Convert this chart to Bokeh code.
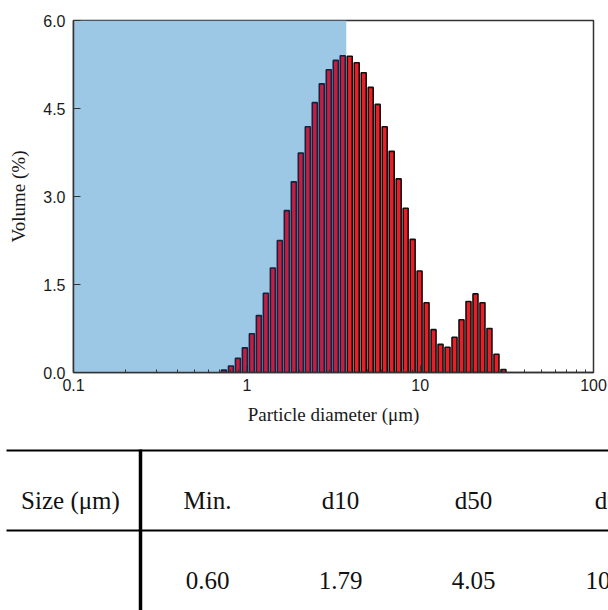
from bokeh.plotting import figure
from bokeh.models import (Range1d, FixedTicker, ColumnDataSource, PrintfTickFormatter,
                          BasicTickFormatter)
from bokeh.core.properties import value
from bokeh.embed import file_html
from bokeh.resources import INLINE

# ---------------- data ----------------
bin_edges_um = [0.704, 0.773, 0.848, 0.930, 1.021, 1.120, 1.229, 1.349, 1.480, 1.624,
                1.782, 1.955, 2.146, 2.354, 2.584, 2.835, 3.111, 3.414, 3.746, 4.110,
                4.510, 4.949, 5.430, 5.959, 6.538, 7.175, 7.873, 8.639, 9.479, 10.393,
                11.404, 12.514, 13.731, 15.067, 16.533, 18.142, 19.907, 21.844, 23.969,
                26.302, 28.861, 31.669]
volume_pct = [0.04, 0.11, 0.24, 0.42, 0.66, 0.97, 1.35, 1.78, 2.25, 2.76,
              3.25, 3.74, 4.19, 4.60, 4.92, 5.16, 5.32, 5.40, 5.39, 5.28,
              5.11, 4.86, 4.57, 4.19, 3.77, 3.30, 2.80, 2.27, 1.73, 1.19,
              0.73, 0.48, 0.43, 0.60, 0.90, 1.21, 1.34, 1.19, 0.75, 0.31, 0.05]
shade_limit_um = 3.746
x_ticks = [0.1, 1, 10, 100]
x_tick_labels = ["0.1", "1", "10", "100"]
y_ticks = [0.0, 1.5, 3.0, 4.5, 6.0]
table_header = ["Size (\u03bcm)", "Min.", "d10", "d50", "d90"]
table_values = ["", "0.60", "1.79", "4.05", "10.39"]

BLUE = "#9dc8e5"
CRIMSON = "#c81d41"
NAVY = "#14233f"
RED = "#ee1d25"

# ---------------- chart ----------------
p = figure(width=608, height=440, x_axis_type="log",
           x_range=Range1d(0.1, 100), y_range=Range1d(0, 6.0),
           output_backend="svg", toolbar_location=None,
           min_border_left=73, min_border_right=15, min_border_top=20, min_border_bottom=68)
p.xgrid.visible = False
p.ygrid.visible = False
p.background_fill_color = "white"
p.border_fill_color = "white"
p.outline_line_color = "#333333"
p.outline_line_width = 1.5

p.quad(left=[x_ticks[0]], right=[shade_limit_um], bottom=[y_ticks[0]], top=[y_ticks[-1]],
       fill_color=BLUE, line_color=None)

gap = 10 ** (1.0 / 173.4)  # ~1px shrink each side on log axis
n = len(volume_pct)
lefts = [bin_edges_um[i] * gap for i in range(n)]
rights = [bin_edges_um[i + 1] / gap for i in range(n)]
inside = [bin_edges_um[i + 1] <= shade_limit_um * 1.001 for i in range(n)]
src = ColumnDataSource(dict(
    left=lefts, right=rights, top=volume_pct, bottom=[0] * n,
    fill=[CRIMSON if f else RED for f in inside],
    line=[NAVY if f else "#111111" for f in inside],
))
p.quad(left="left", right="right", top="top", bottom="bottom", source=src,
       fill_color="fill", line_color="line", line_width=1.6)

minor = [m * d for d in (0.1, 1, 10) for m in range(2, 10)]
p.xaxis.ticker = FixedTicker(ticks=x_ticks, minor_ticks=minor)
p.xaxis.formatter = BasicTickFormatter(use_scientific=False)
p.xaxis.major_label_overrides = {t: l for t, l in zip(x_ticks, x_tick_labels)}
p.yaxis.ticker = FixedTicker(ticks=y_ticks)
p.yaxis.formatter = PrintfTickFormatter(format="%.1f")

for ax in (p.xaxis[0], p.yaxis[0]):
    ax.axis_line_color = "#333333"
    ax.axis_line_width = 1.5
    ax.major_tick_line_color = "#333333"
    ax.minor_tick_line_color = "#333333"
    ax.major_tick_in = 7
    ax.major_tick_out = 0
    ax.minor_tick_in = 3
    ax.minor_tick_out = 0
    ax.major_label_text_font = "Liberation Sans"
    ax.major_label_text_font_size = "16px"
    ax.major_label_text_color = "#1a1a1a"
    ax.axis_label_text_font = "Liberation Serif"
    ax.axis_label_text_font_style = "normal"
    ax.axis_label_text_color = "#1a1a1a"
p.yaxis.minor_tick_line_color = None
p.xaxis.major_label_standoff = 6
p.yaxis.major_label_standoff = 8
p.xaxis.axis_label = "Particle diameter (\u03bcm)"
p.yaxis.axis_label = "Volume (%)"
p.xaxis.axis_label_text_font_size = "19px"
p.yaxis.axis_label_text_font_size = "19px"
p.xaxis.axis_label_standoff = 10
p.yaxis.axis_label_standoff = 11

# ---------------- table (separate root, pixel coordinates) ----------------
t = figure(width=608, height=170, x_range=Range1d(0, 608), y_range=Range1d(0, 170),
           output_backend="svg", toolbar_location=None,
           x_axis_location=None, y_axis_location=None,
           min_border=0, min_border_left=0, min_border_right=0, min_border_top=0, min_border_bottom=0)
t.xgrid.visible = False
t.ygrid.visible = False
t.outline_line_color = None
t.background_fill_color = "white"
t.border_fill_color = "white"

t.segment(x0=[6, 6], y0=[160, 80], x1=[608, 608], y1=[160, 80], line_color="black", line_width=2.2)
t.segment(x0=[140], y0=[161], x1=[140], y1=[0], line_color="black", line_width=3.5)

col_x = [70, 207, 340, 473, 613]
t.text(x=col_x, y=[110] * 5, text=table_header, text_align="center", text_baseline="middle",
       text_font=value("Liberation Serif"), text_font_size="25px", text_color="#111111")
t.text(x=col_x, y=[30] * 5, text=table_values, text_align="center", text_baseline="middle",
       text_font=value("Liberation Serif"), text_font_size="25px", text_color="#111111")

open("out.html", "w").write(file_html([p, t], INLINE))
